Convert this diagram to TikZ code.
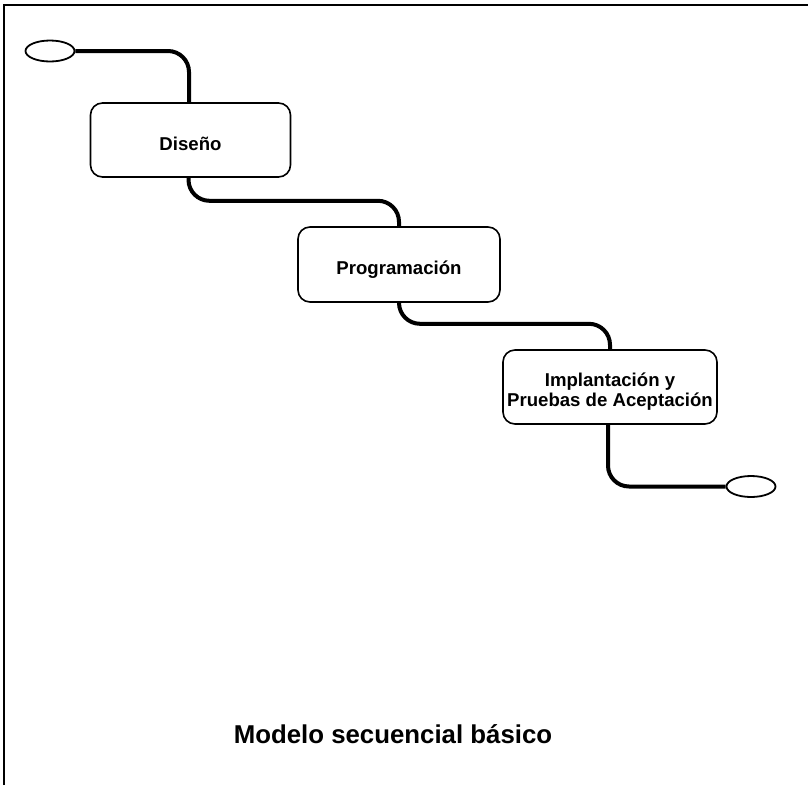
\documentclass[tikz,border=0pt]{standalone}
\usepackage{fontspec}
\setmainfont{Liberation Sans}
\usetikzlibrary{shapes.geometric}
\begin{document}
\begin{tikzpicture}[x=1pt,y=-1pt,
  phase/.style={draw, line width=1.6pt, rounded corners=12pt,
    minimum width=200pt, minimum height=74pt, align=center,
    font=\fontsize{18.6}{20.5}\selectfont\bfseries, inner sep=0pt,
    text height=20pt, text depth=0pt},
  terminal/.style={draw, ellipse, line width=1.8pt,
    minimum width=49pt, minimum height=21pt, inner sep=0pt},
  flow/.style={line width=4pt, rounded corners=21pt},
  frame/.style={line width=1.5pt}]
\useasboundingbox (0,0) rectangle (808,785);
% open frame: top and left edges only
\draw[frame] (4,785) -- (4,5) -- (808,5);
% stages
\node[terminal] (start) at (50,51) {};
\node[phase] (d) at (190.5,140) {Diseño};
\node[phase, minimum width=202pt, minimum height=75pt] (p) at (399,264.5) {Programación};
\node[phase, minimum width=214pt, text height=39pt] (i) at (610,387) {Implantación y\\Pruebas de Aceptación};
\node[terminal] (end) at (751,486.5) {};
% flow between stages
\draw[flow] (start.east) -| ([xshift=-1.5pt]d.north);
\draw[flow] ([xshift=-2pt]d.south) -- ++(0,23) -| (p.north);
\draw[flow] (p.south) -- ++(0,21) -| (i.north);
\draw[flow] ([xshift=-2pt]i.south) |- (end.west);
% caption
\node[anchor=base, font=\fontsize{25.8}{30}\selectfont\bfseries] (title) at (393,743) {Modelo secuencial básico};
\end{tikzpicture}
\end{document}
